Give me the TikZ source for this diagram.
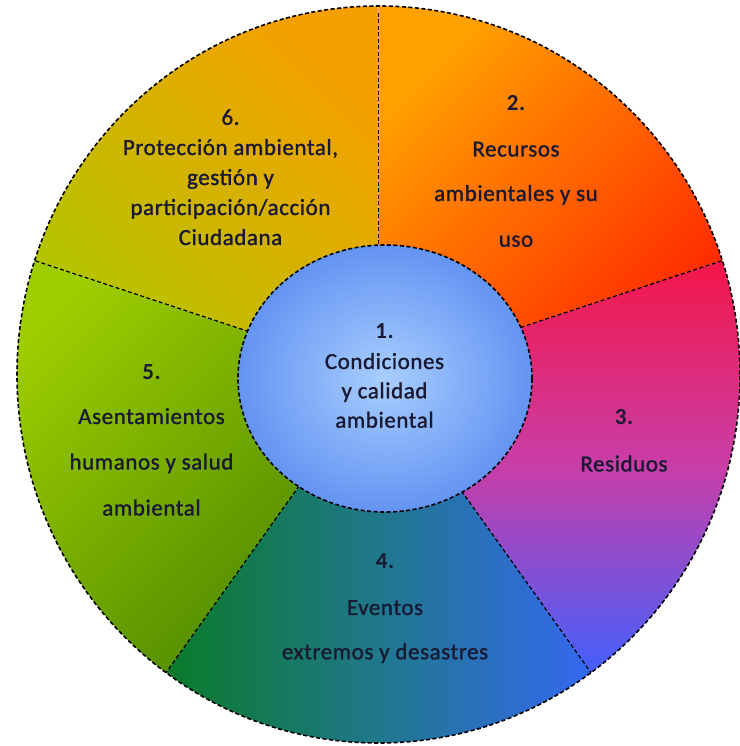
\documentclass[tikz,border=0pt]{standalone}
\usepackage{fontspec}
\setmainfont{Carlito}[LetterSpace=2.5]
\newfontfamily\wordfont{Carlito}[LetterSpace=2.5, FakeBold=1.2]
\definecolor{sTwoA}{RGB}{255,162,0}
\definecolor{sTwoB}{RGB}{255,40,0}
\definecolor{sThreeA}{RGB}{244,22,72}
\definecolor{sThreeB}{RGB}{200,62,168}
\definecolor{sThreeC}{RGB}{66,96,252}
\definecolor{sFourA}{RGB}{10,122,40}
\definecolor{sFourB}{RGB}{32,120,140}
\definecolor{sFourC}{RGB}{52,104,240}
\definecolor{sFiveA}{RGB}{158,206,0}
\definecolor{sFiveB}{RGB}{74,134,0}
\definecolor{sSixA}{RGB}{245,160,0}
\definecolor{sSixB}{RGB}{178,198,0}
\definecolor{inA}{RGB}{168,206,255}
\definecolor{inB}{RGB}{100,148,242}
\definecolor{txt}{RGB}{25,25,50}
\newcommand\wedgepath[2]{(C) -- ([shift={(C)}]#1:361.5 and 368.5) arc[start angle=#1, end angle=#2, x radius=361.5, y radius=368.5] -- cycle}
\begin{document}
\begin{tikzpicture}[x=1pt,y=1pt,
  dashline/.style={draw=black, line width=1.6pt, dash pattern=on 4pt off 2.5pt},
  divline/.style={draw=black, line width=1.2pt, dash pattern=on 4pt off 2.5pt},
  lbl/.style={anchor=base, inner sep=0pt, text=txt, font=\fontsize{23}{28}\selectfont\wordfont},
  num/.style={anchor=base, inner sep=0pt, text=txt, font=\fontsize{23}{28}\selectfont\bfseries}]
\useasboundingbox (0,0) rectangle (739,746);
\coordinate (C) at (378.5,371.5);
\coordinate (I) at (385,367.5);
% sectors
\path[top color=sTwoA, bottom color=sTwoB, shading angle=45] \wedgepath{18}{90};
\path[top color=sThreeA, bottom color=sThreeC, middle color=sThreeB] \wedgepath{-54}{18};
\path[left color=sFourA, right color=sFourC, middle color=sFourB] \wedgepath{-126}{-54};
\path[top color=sFiveA, bottom color=sFiveB, shading angle=45] \wedgepath{162}{234};
\path[top color=sSixA, bottom color=sSixB, shading angle=-45] \wedgepath{90}{162};
% divider end points
\coordinate (P90) at ([shift={(C)}]90:361.5 and 362);
\coordinate (P18) at ([shift={(C)}]18:361.5 and 368.5);
\coordinate (Pm54) at ([shift={(C)}]-54:361.5 and 368.5);
\coordinate (Pm126) at ([shift={(C)}]-126:361.5 and 368.5);
\coordinate (P162) at ([shift={(C)}]162:361.5 and 368.5);
\draw[divline] (C) -- (P90);
\draw[divline] (C) -- (P18);
\draw[divline] (C) -- (Pm54);
\draw[divline] (C) -- (Pm126);
\draw[divline] (C) -- (P162);
\draw[dashline] (C) ellipse[x radius=361.5, y radius=368.5];
% inner
\path[inner color=inA, outer color=inB] (I) ellipse[x radius=147, y radius=133.5];
\draw[dashline] (I) ellipse[x radius=147, y radius=133.5];
% texts
\node[num] (t1a) at (384.5,407.7) {1.};
\node[lbl] (t1b) at (384.5,377) {Condiciones};
\node[lbl] (t1c) at (384.5,347.7) {y calidad};
\node[lbl] (t1d) at (384.5,318.3) {ambiental};
\node[num] (t2a) at (516,635.5) {2.};
\node[lbl] (t2b) at (516,589.5) {Recursos};
\node[lbl] (t2c) at (516,545) {ambientales y su};
\node[lbl] (t2d) at (516,499.3) {uso};
\node[num] (t3a) at (624,321) {3.};
\node[lbl] (t3b) at (624,274.6) {Residuos};
\node[num] (t4a) at (385,177.7) {4.};
\node[lbl] (t4b) at (385,131) {Eventos};
\node[lbl] (t4c) at (385,86.7) {extremos y desastres};
\node[num] (t5a) at (151.5,366.6) {5.};
\node[lbl] (t5b) at (151.5,322) {Asentamientos};
\node[lbl] (t5c) at (151.5,276.5) {humanos y salud};
\node[lbl] (t5d) at (151.5,230.5) {ambiental};
\node[lbl] (t6a) at (230.5,621.2) {6.};
\node[lbl] (t6b) at (230.5,591) {Protección ambiental,};
\node[lbl] (t6c) at (230.5,561) {gestión y};
\node[lbl] (t6d) at (230.5,531) {participación/acción};
\node[lbl] (t6e) at (230.5,501) {Ciudadana};
\end{tikzpicture}
\end{document}
